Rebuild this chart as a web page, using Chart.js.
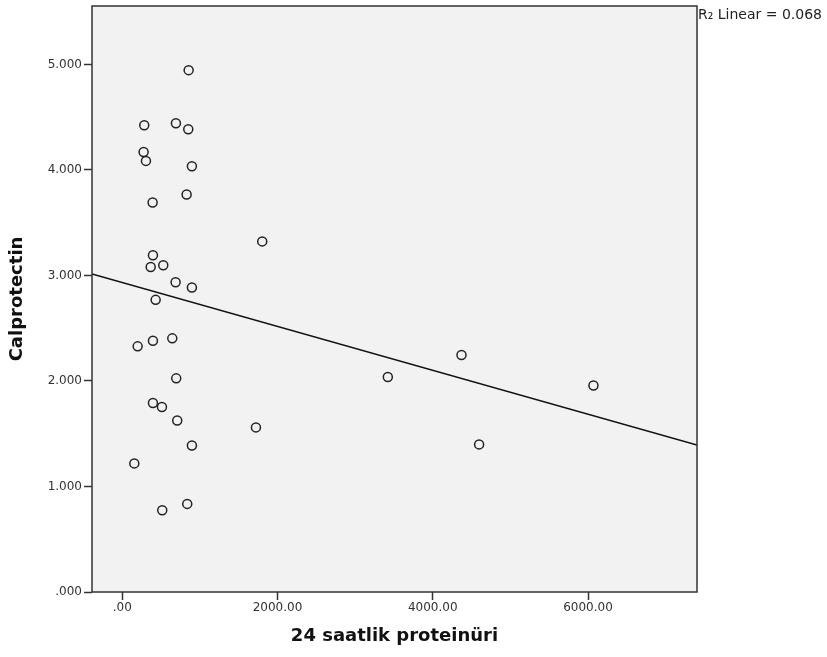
<!DOCTYPE html>
<html>
<head>
<meta charset="utf-8">
<script src="https://cdn.jsdelivr.net/npm/chart.js@4.4.1/dist/chart.umd.min.js"></script>
<style>
body { margin: 0; background: #fff; }
#wrap { width: 827px; height: 657px; }
</style>
</head>
<body>
<div id="wrap"><canvas id="myChart" width="827" height="657"></canvas></div>
<script>
// 24 saatlik proteinüri (x) ve calprotectin (y)
var proteinuri = [855, 283, 691, 850, 275, 305, 897, 829, 391,
                  395, 366, 528, 687, 897, 430, 198, 395, 644, 695,
                  395, 511, 708, 897, 155, 837, 515,
                  1803, 1722, 3421, 4370, 4597, 6070];
var calprotectin = [4.946, 4.423, 4.442, 4.386, 4.171, 4.086, 4.036, 3.768, 3.692,
                    3.191, 3.081, 3.097, 2.936, 2.886, 2.769, 2.328, 2.382, 2.404, 2.025,
                    1.792, 1.754, 1.626, 1.389, 1.219, 0.835, 0.775,
                    3.323, 1.560, 2.038, 2.246, 1.399, 1.957];

// regresyon doğrusu uç noktaları
var fitX = [-390, 7404];
var fitY = [3.015, 1.392];

var xMin = -390, xMax = 7404;
var yMin = 0, yMax = 5.554;
var rText = "R\u2082 Linear = 0.068";

var points = [];
for (var i = 0; i < proteinuri.length; i++) {
    points.push({x: proteinuri[i], y: calprotectin[i]});
}
var fitLine = [];
for (var i = 0; i < fitX.length; i++) {
    fitLine.push({x: fitX[i], y: fitY[i]});
}

function fmt(v, d) {
    var s = v.toFixed(d);
    if (s.charAt(0) == "0") s = s.substring(1);
    return s;
}

var kutu = {
    id: 'kutu',
    beforeDraw: function(chart) {
        var a = chart.chartArea, c = chart.ctx;
        c.save();
        c.fillStyle = '#f2f2f2';
        c.fillRect(a.left, a.top, a.right - a.left, a.bottom - a.top);
        c.restore();
    },
    afterDraw: function(chart) {
        var a = chart.chartArea, c = chart.ctx;
        c.save();
        c.strokeStyle = '#333';
        c.lineWidth = 1.5;
        c.strokeRect(a.left, a.top, a.right - a.left, a.bottom - a.top);
        c.fillStyle = '#222';
        c.font = '14px "DejaVu Sans"';
        c.textBaseline = 'middle';
        c.textAlign = 'left';
        c.fillText(rText, a.right + 1, 15);
        c.restore();
    }
};

var config = {
    type: 'scatter',
    data: {
        datasets: [{
            label: 'fit',
            type: 'line',
            data: fitLine,
            borderColor: '#111',
            borderWidth: 1.5,
            pointRadius: 0,
            fill: false
        }, {
            label: 'Calprotectin',
            data: points,
            pointStyle: 'circle',
            pointRadius: 4.5,
            borderWidth: 1.5,
            borderColor: '#222',
            backgroundColor: 'rgba(0,0,0,0)'
        }]
    },
    options: {
        responsive: false,
        animation: false,
        layout: { padding: { left: 0, right: 130, top: 5, bottom: 0 } },
        plugins: { legend: { display: false }, tooltip: { enabled: false } },
        scales: {
            x: {
                type: 'linear',
                min: xMin,
                max: xMax,
                afterBuildTicks: function(s) {
                    s.ticks = [0, 2000, 4000, 6000].map(function(v) { return {value: v}; });
                },
                afterFit: function(s) { s.height = 65; s.paddingLeft = 0; s.paddingRight = 0; },
                grid: { drawOnChartArea: false, drawTicks: true, tickLength: 8, tickColor: '#333', tickWidth: 1.5 },
                border: { display: false },
                ticks: {
                    padding: 1,
                    color: '#333',
                    font: { family: '"DejaVu Sans"', size: 12 },
                    callback: function(v) { return fmt(v, 2); }
                },
                title: {
                    display: true,
                    text: '24 saatlik proteinüri',
                    color: '#111',
                    font: { family: '"DejaVu Sans"', size: 18, weight: 'bold' },
                    padding: { top: 0, bottom: 10 }
                }
            },
            y: {
                type: 'linear',
                min: yMin,
                max: yMax,
                afterBuildTicks: function(s) {
                    s.ticks = [0, 1, 2, 3, 4, 5].map(function(v) { return {value: v}; });
                },
                afterFit: function(s) { s.width = 92; s.paddingTop = 0; s.paddingBottom = 0; },
                grid: { drawOnChartArea: false, drawTicks: true, tickLength: 8, tickColor: '#333', tickWidth: 1.5 },
                border: { display: false },
                ticks: {
                    padding: 2,
                    color: '#333',
                    font: { family: '"DejaVu Sans"', size: 12 },
                    callback: function(v) { return fmt(v, 3); }
                },
                title: {
                    display: true,
                    text: 'Calprotectin',
                    color: '#111',
                    font: { family: '"DejaVu Sans"', size: 18, weight: 'bold' },
                    padding: { top: 7, bottom: 0 }
                }
            }
        }
    },
    plugins: [kutu]
};

var myChart = new Chart(document.getElementById('myChart'), config);
</script>
</body>
</html>
